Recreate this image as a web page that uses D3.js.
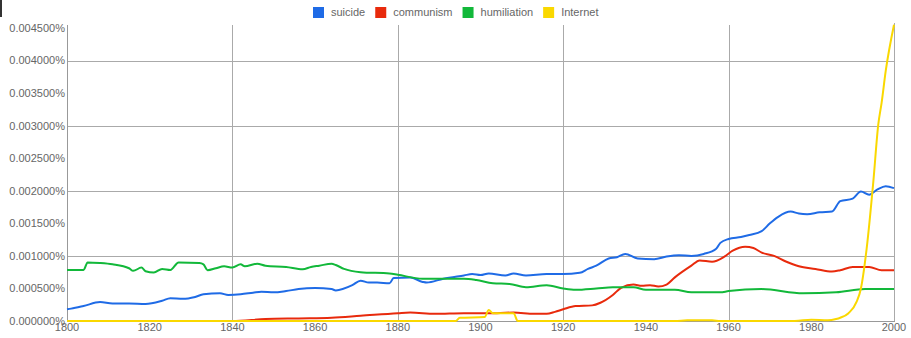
<!DOCTYPE html>
<html>
<head>
<meta charset="utf-8">
<script src="https://cdn.jsdelivr.net/npm/d3@7"></script>
<style>
  body { margin: 0; background: #fff; }
  svg { display: block; font-family: "Liberation Sans", Arial, sans-serif; }
</style>
</head>
<body>
<svg id="chart" width="911" height="338"></svg>
<script>
// values are in percent (0.001 = 0.001000%)
var suicide = [
    [1800, 0.00018], [1801, 0.00019], [1804, 0.00023], [1808, 0.00029], [1811, 0.00027],
    [1815, 0.00027], [1819, 0.00026], [1823, 0.00031], [1825, 0.00035], [1828, 0.00034],
    [1831, 0.00037], [1833, 0.00041], [1837, 0.000425], [1839, 0.0004], [1842, 0.00041],
    [1845, 0.000435], [1847, 0.00045], [1850, 0.00044], [1853, 0.00046], [1856, 0.00049],
    [1860, 0.000505], [1864, 0.00049], [1865, 0.00047], [1869, 0.00055], [1871, 0.00062],
    [1873, 0.00059], [1875, 0.00059], [1878, 0.00058], [1879, 0.00066], [1883, 0.00067],
    [1886, 0.0006], [1887, 0.00059], [1891, 0.00065], [1896, 0.0007], [1898, 0.00072],
    [1900, 0.000705], [1902, 0.00073], [1906, 0.0007], [1908, 0.00073], [1911, 0.0007],
    [1916, 0.00072], [1920, 0.00072], [1924, 0.00074], [1926, 0.0008], [1928, 0.00085],
    [1931, 0.00096], [1933, 0.00098], [1935, 0.00103], [1938, 0.00096], [1942, 0.00095],
    [1945, 0.00099], [1948, 0.00101], [1951, 0.001], [1954, 0.00103], [1957, 0.00111],
    [1958, 0.0012], [1960, 0.00126], [1963, 0.00129], [1965, 0.00132], [1968, 0.00138],
    [1970, 0.0015], [1972, 0.0016], [1975, 0.00168], [1977, 0.00165], [1979, 0.00164],
    [1982, 0.00167], [1985, 0.00168], [1987, 0.00184], [1990, 0.00188], [1992, 0.00199],
    [1994, 0.00194], [1996, 0.00202], [1998, 0.00207], [2000, 0.00204]
];

var communism = [
    [1800, 0], [1840, 0], [1848, 0.00003], [1856, 0.00004], [1864, 0.00005],
    [1871, 0.00008], [1880, 0.00012], [1883, 0.00013], [1889, 0.00011], [1896, 0.00012],
    [1904, 0.00012], [1908, 0.00013], [1913, 0.00011], [1916, 0.00011], [1918, 0.00014],
    [1920, 0.00018], [1923, 0.00023], [1927, 0.00024], [1929, 0.00028], [1932, 0.0004],
    [1934, 0.00051], [1937, 0.00056], [1939, 0.00054], [1941, 0.00055], [1943, 0.00053],
    [1945, 0.00056], [1947, 0.00067], [1951, 0.00085], [1953, 0.00093], [1956, 0.00091],
    [1959, 0.00099], [1961, 0.00108], [1964, 0.00114], [1966, 0.00112], [1968, 0.00105],
    [1971, 0.001], [1974, 0.00091], [1977, 0.00084], [1981, 0.0008], [1985, 0.00076],
    [1987, 0.00078], [1990, 0.00083], [1994, 0.00083], [1997, 0.00078], [2000, 0.00078]
];

var humiliation = [
    [1800, 0.000785], [1804, 0.000785], [1805, 0.0009], [1808, 0.00089], [1811, 0.00087],
    [1815, 0.00081], [1816, 0.00077], [1818, 0.00082], [1819, 0.000765], [1821, 0.000745],
    [1823, 0.0008], [1825, 0.000785], [1827, 0.0009], [1832, 0.00089], [1833, 0.00087],
    [1834, 0.00078], [1836, 0.00081], [1838, 0.00084], [1840, 0.00082], [1842, 0.00087],
    [1843, 0.00084], [1846, 0.00088], [1848, 0.00085], [1853, 0.00083], [1857, 0.000795],
    [1859, 0.00083], [1861, 0.00085], [1864, 0.00088], [1865, 0.00086], [1867, 0.0008],
    [1871, 0.00075], [1878, 0.00073], [1880, 0.00071], [1886, 0.00065], [1896, 0.00065],
    [1899, 0.00063], [1903, 0.00058], [1907, 0.00057], [1911, 0.00052], [1916, 0.00055],
    [1920, 0.0005], [1923, 0.00048], [1928, 0.0005], [1932, 0.00052], [1937, 0.00052],
    [1940, 0.00048], [1947, 0.00048], [1951, 0.00044], [1958, 0.00044], [1960, 0.00046],
    [1968, 0.00049], [1978, 0.000425], [1986, 0.00044], [1993, 0.00049], [2000, 0.00049]
];

var internet = [
    [1800, 0], [1894, 0], [1895, 0.00005], [1901, 0.00006], [1902, 0.00017],
    [1903, 0.00012], [1908, 0.00012], [1909, 0], [1947, 0], [1950, 0.00001],
    [1956, 0.00001], [1958, 0], [1976, 0], [1980, 0.00002], [1984, 0.00001],
    [1986, 0.00003], [1987, 0.00005], [1989, 0.00012], [1991, 0.0003], [1992, 0.0005],
    [1993.4, 0.00112], [1995, 0.00214], [1996.2, 0.00302], [1997, 0.00335], [1998, 0.00384],
    [2000, 0.00455]
];

var seriesNames = ['suicide', 'communism', 'humiliation', 'Internet'];
var seriesData = [suicide, communism, humiliation, internet];
var seriesColors = ['#1f6be6', '#e82a0c', '#12b83a', '#fad800'];

var yTicks = [0, 0.0005, 0.001, 0.0015, 0.002, 0.0025, 0.003, 0.0035, 0.004, 0.0045];
var yGrid = [0.001, 0.002, 0.003, 0.004];
var xTicks = [1800, 1820, 1840, 1860, 1880, 1900, 1920, 1940, 1960, 1980, 2000];
var xGrid = [1840, 1880, 1920, 1960];

var svg = d3.select('#chart');
var margin = { top: 25, right: 17, bottom: 17, left: 67 }
    , width = svg.attr("width") - margin.left - margin.right
    , height = svg.attr("height") - margin.top - margin.bottom;

// small dark mark in the corner of the original screenshot
svg.append("rect").attr("x", 0).attr("y", 0).attr("width", 2).attr("height", 17).attr("fill", "#333");

var xScale = d3.scaleLinear().domain([1800, 2000]).range([0, width]);
var yScale = d3.scaleLinear().domain([0, 0.0045]).range([height, 3]);

var g = svg.append("g").attr("transform", `translate(${margin.left},${margin.top})`);

// grid
g.selectAll(".hgrid").data(yGrid).enter().append("line")
    .attr("x1", 0).attr("x2", width)
    .attr("y1", d => Math.round(yScale(d)) + 0.5).attr("y2", d => Math.round(yScale(d)) + 0.5)
    .attr("stroke", "#aaa").attr("stroke-width", 1);
g.selectAll(".vgrid").data(xGrid).enter().append("line")
    .attr("x1", d => Math.round(xScale(d)) + 0.5).attr("x2", d => Math.round(xScale(d)) + 0.5)
    .attr("y1", 0).attr("y2", height)
    .attr("stroke", "#aaa").attr("stroke-width", 1);

// frame: left axis, right edge, bottom axis
g.append("line").attr("x1", 0.5).attr("x2", 0.5).attr("y1", 0).attr("y2", height).attr("stroke", "#999");
g.append("line").attr("x1", width + 0.5).attr("x2", width + 0.5).attr("y1", -2).attr("y2", height).attr("stroke", "#aaa");
g.append("line").attr("x1", 0).attr("x2", width + 1).attr("y1", height + 0.5).attr("y2", height + 0.5).attr("stroke", "#999");

// y labels
g.selectAll(".ylab").data(yTicks).enter().append("text")
    .attr("x", -2)
    .attr("y", d => yScale(d))
    .attr("dy", "0.35em")
    .attr("text-anchor", "end")
    .attr("font-size", 11)
    .attr("fill", "#666")
    .text(d => d3.format(".6f")(d) + "%");

// x labels
g.selectAll(".xlab").data(xTicks).enter().append("text")
    .attr("x", d => xScale(d))
    .attr("y", height + 10)
    .attr("text-anchor", "middle")
    .attr("font-size", 11)
    .attr("fill", "#666")
    .text(d => d);

// lines
var line = d3.line()
    .x(d => xScale(d[0]))
    .y(d => yScale(d[1]))
    .curve(d3.curveMonotoneX);

for (let i = 0; i < seriesData.length; i++) {
    g.append("path")
        .datum(seriesData[i])
        .attr("fill", "none")
        .attr("stroke", seriesColors[i])
        .attr("stroke-width", 2)
        .attr("stroke-linejoin", "round")
        .attr("d", line);
}

// legend, centred on the page
var legend = svg.append("g");
var lx = 0;
for (let i = 0; i < seriesNames.length; i++) {
    legend.append("rect")
        .attr("x", lx).attr("y", 7)
        .attr("width", 11).attr("height", 11)
        .attr("fill", seriesColors[i]);
    var t = legend.append("text")
        .attr("x", lx + 18).attr("y", 16)
        .attr("font-size", 11)
        .attr("fill", "#666")
        .text(seriesNames[i]);
    lx += 18 + t.node().getComputedTextLength() + 10;
}
lx -= 10;
legend.attr("transform", `translate(${Math.round((+svg.attr("width") - lx) / 2)},0)`);
</script>
</body>
</html>
